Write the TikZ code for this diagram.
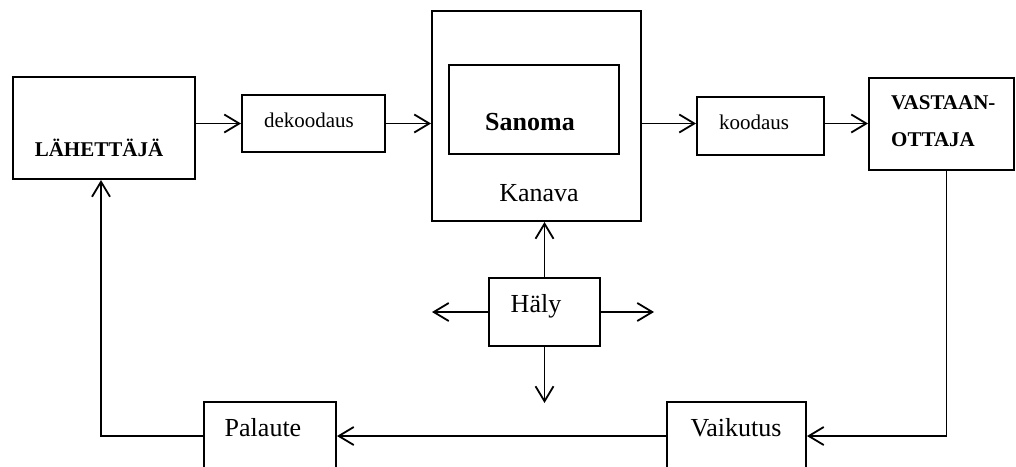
\documentclass[tikz,border=0pt]{standalone}
\usepackage{fontspec}
\setmainfont{Liberation Serif}
\usetikzlibrary{arrows.meta}
\tikzset{
  laatikko/.style={draw,line width=2pt,inner sep=0pt},
  pieni/.style={font=\fontsize{21}{25}\selectfont,inner sep=0pt},
  iso/.style={font=\fontsize{26}{30}\selectfont,inner sep=0pt},
  nuoli/.style={line width=1.8pt,-{Straight Barb[length=15pt,width=18pt,line width=1.8pt]}},
}
\begin{document}
\begin{tikzpicture}[x=1pt,y=-1pt]
\clip (0,0) rectangle (1016,466);
% laatikot
\foreach \nimi/\x/\y/\w/\h in {lah/104/128/182/102, dek/313.5/123.5/143/57, kan/536.5/116/209/210,
  san/534/109.5/170/89, koo/760.5/126/127/58, vas/941.5/124/145/92,
  hal/544.5/312/111/68, vai/736.5/436/139/68, pal/270/436/132/68} {
  \node[laatikko,minimum width=\w pt,minimum height=\h pt] (\nimi) at (\x,\y) {};
}
% tekstit
\node[pieni,font=\fontsize{21}{25}\selectfont\bfseries] (lahT) at (99,148) {LÄHETTÄJÄ};
\node[pieni] (dekT) at (309,120) {dekoodaus};
\node[iso,font=\fontsize{26}{30}\selectfont\bfseries] (sanT) at (530,122) {Sanoma};
\node[iso] (kanT) at (539,193) {Kanava};
\node[pieni] (kooT) at (754,122) {koodaus};
\node[pieni,font=\fontsize{21}{37}\selectfont\bfseries,align=left,anchor=west] (vasT) at (891,121.5) {VASTAAN-\\OTTAJA};
\node[iso] (halT) at (536,306) {Häly};
\node[iso] (vaiT) at (736,428) {Vaikutus};
\node[iso] (palT) at (263,428) {Palaute};
% vapaat päät
\coordinate (halV) at (432,312);
\coordinate (halO) at (654,312);
\coordinate (halA) at (544.5,403);
% nuolet
\draw[nuoli] (lah.east |- dek.west) -- (dek.west);
\draw[nuoli] (dek.east) -- (kan.west |- dek.east);
\draw[nuoli] (kan.east |- dek.east) -- (koo.west |- dek.east);
\draw[nuoli] (koo.east |- dek.east) -- (vas.west |- dek.east);
\draw[nuoli] ([xshift=5pt]vas.south) |- (vai.east);
\draw[nuoli] (vai.west) -- (pal.east);
\draw[nuoli] (pal.west) -| ([xshift=-3pt]lah.south);
\draw[nuoli] (hal.north) -- (hal.north |- kan.south);
\draw[nuoli] (hal.west) -- (halV);
\draw[nuoli] (hal.east) -- (halO);
\draw[nuoli] (hal.south) -- (halA);
\end{tikzpicture}
\end{document}
